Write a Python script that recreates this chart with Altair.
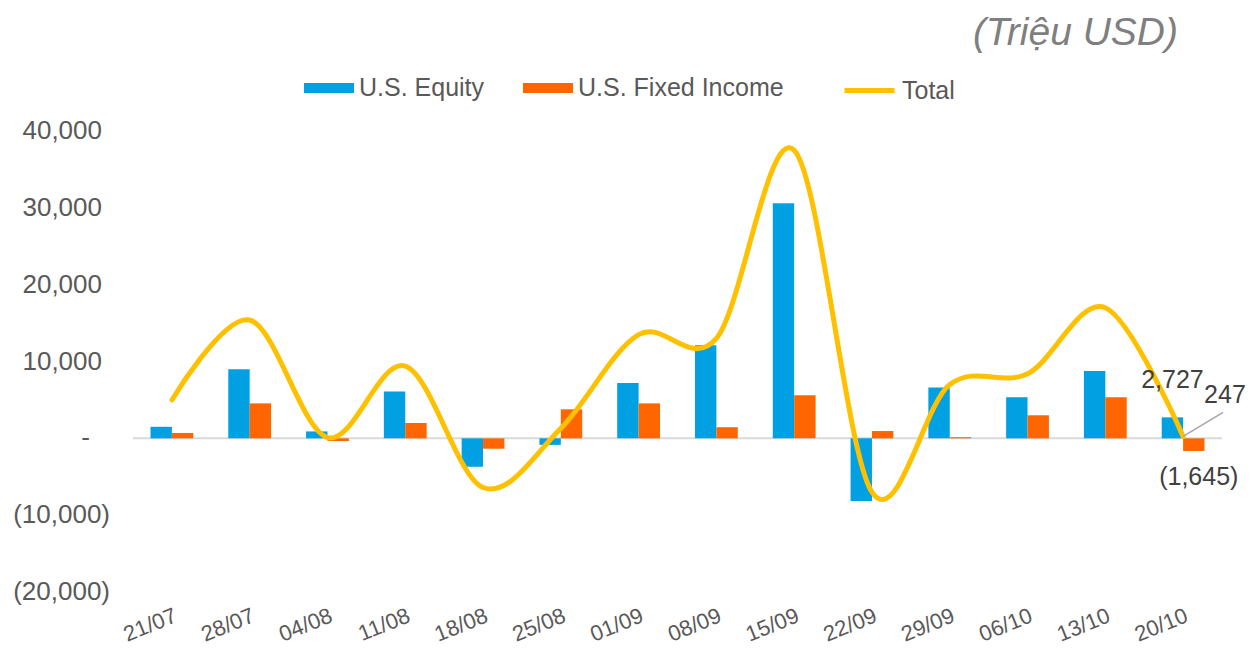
import altair as alt
import pandas as pd

dates = ["21/07", "28/07", "04/08", "11/08", "18/08", "25/08", "01/09",
         "08/09", "15/09", "22/09", "29/09", "06/10", "13/10", "20/10"]
equity = [1500, 9000, 900, 6100, -3700, -850, 7200, 12100, 30600, -8150, 6600, 5350, 8750, 2727]
fixed_income = [700, 4550, -350, 2000, -1350, 3780, 4550, 1450, 5600, 950, 150, 3000, 5350, -1645]
total = [5000, 15400, 100, 9400, -6400, 1300, 13500, 13000, 37500, -7000, 7000, 8400, 17000, 247]

series_names = ["U.S. Equity", "U.S. Fixed Income", "Total"]
series_colors = ["#00A0E3", "#FF6600", "#FFC000"]
y_ticks = [-20000, -10000, 0, 10000, 20000, 30000, 40000]
unit_title = "(Triệu USD)"


def fmt(v):
    if v == 0:
        return "-"
    return f"({abs(v):,})" if v < 0 else f"{v:,}"


bars = pd.DataFrame({
    "date": dates * 2,
    "series": [series_names[0]] * len(dates) + [series_names[1]] * len(dates),
    "value": equity + fixed_income,
})
line = pd.DataFrame({"date": dates, "series": series_names[2], "value": total})
zero = pd.DataFrame({"value": [0]})
ticks = pd.DataFrame({"value": y_ticks, "label": [fmt(v) for v in y_ticks]})

eq_last = pd.DataFrame({"date": [dates[-1]], "series": [series_names[0]],
                        "value": [equity[-1]], "label": [fmt(equity[-1])]})
fi_last = pd.DataFrame({"date": [dates[-1]], "series": [series_names[1]],
                        "value": [fixed_income[-1]], "label": [fmt(fixed_income[-1])]})
tot_last = pd.DataFrame({"date": [dates[-1]], "series": [series_names[2]],
                         "value": [total[-1]], "label": [fmt(total[-1])]})

x_enc = alt.X("date:N", sort=dates,
              scale=alt.Scale(paddingInner=0.45, paddingOuter=0.225),
              axis=alt.Axis(title=None, domain=False, ticks=False, labelAngle=-22,
                            labelFontSize=22, labelColor="#595959", labelPadding=13))
y_scale = alt.Scale(domain=[-20000, 40000], nice=False)
y_enc = alt.Y("value:Q", scale=y_scale,
              axis=alt.Axis(title=None, values=y_ticks, grid=False, domain=False, ticks=False,
                            labels=False))
xoff = alt.XOffset("series:N", sort=series_names[:2],
                   scale=alt.Scale(domain=series_names[:2], paddingInner=0, paddingOuter=0))

fill_enc = alt.Fill("series:N", scale=alt.Scale(domain=series_names[:2], range=series_colors[:2]),
                    legend=alt.Legend(title=None, orient="none", legendX=171, legendY=-68,
                                      direction="horizontal", labelFontSize=25,
                                      labelColor="#595959", columnPadding=38, labelLimit=400,
                                      symbolType="M-1,-0.2L1,-0.2L1,0.2L-1,0.2Z",
                                      symbolSize=2500, symbolStrokeWidth=0, symbolOpacity=1,
                                      labelOffset=5, padding=0))
stroke_enc = alt.Stroke("series:N", scale=alt.Scale(domain=series_names[2:], range=series_colors[2:]),
                        legend=alt.Legend(title=None, orient="none", legendX=709, legendY=-68,
                                          direction="horizontal", labelFontSize=25,
                                          labelColor="#595959", symbolType="stroke",
                                          labelLimit=200,
                                          symbolSize=2500, symbolStrokeWidth=5, symbolOpacity=1,
                                          labelOffset=5, padding=0))

zero_rule = alt.Chart(zero).mark_rule(color="#D9D9D9", strokeWidth=2).encode(y="value:Q")

bar_layer = alt.Chart(bars).mark_bar().encode(
    x=x_enc, y=y_enc, xOffset=xoff, fill=fill_enc)

line_layer = alt.Chart(line).mark_line(interpolate="cardinal", strokeWidth=5, strokeCap="round",
                                       strokeJoin="round").encode(
    x=alt.X("date:N", sort=dates), y="value:Q", stroke=stroke_enc)

tick_style = dict(fontSize=26, color="#595959", align="right", baseline="middle")
ytick_pos = alt.Chart(ticks).transform_filter("datum.value > 0").mark_text(**tick_style).encode(
    x=alt.value(-31), y="value:Q", text="label:N")
ytick_zero = alt.Chart(ticks).transform_filter("datum.value == 0").mark_text(**tick_style).encode(
    x=alt.value(-43), y="value:Q", text="label:N")
ytick_neg = alt.Chart(ticks).transform_filter("datum.value < 0").mark_text(**tick_style).encode(
    x=alt.value(-23), y="value:Q", text="label:N")

lbl_style = dict(fontSize=25, color="#404040")
eq_text = alt.Chart(eq_last).mark_text(baseline="alphabetic", dy=-29, **lbl_style).encode(
    x=alt.X("date:N", sort=dates), xOffset=xoff, y="value:Q", text="label:N")
fi_text = alt.Chart(fi_last).mark_text(baseline="alphabetic", dy=34, dx=5, **lbl_style).encode(
    x=alt.X("date:N", sort=dates), xOffset=xoff, y="value:Q", text="label:N")
tot_text = alt.Chart(tot_last).mark_text(baseline="alphabetic", align="left", dx=21, dy=-33,
                                         **lbl_style).encode(
    x=alt.X("date:N", sort=dates), y="value:Q", text="label:N")
leader = alt.Chart(tot_last).mark_rule(color="#A6A6A6", strokeWidth=1.5,
                                       x2Offset=40, y2Offset=-24).encode(
    x=alt.X("date:N", sort=dates), x2="date:N", y="value:Q", y2="value:Q")

chart = alt.layer(zero_rule, bar_layer, line_layer, leader, eq_text, fi_text, tot_text,
                  ytick_pos, ytick_zero, ytick_neg).properties(
    width=1089, height=461,
    autosize=alt.AutoSizeParams(type="none"),
    padding={"left": 125, "top": 123, "right": 23, "bottom": 56},
    title=alt.Title(unit_title, anchor="end", frame="group", fontSize=39, fontStyle="italic",
                    fontWeight="normal", color="#7F7F7F", baseline="alphabetic", offset=-21, dx=-44),
).configure(font="Liberation Sans").configure_view(stroke=None)

chart.save("out.html", embed_options={"renderer": "svg", "actions": False})
